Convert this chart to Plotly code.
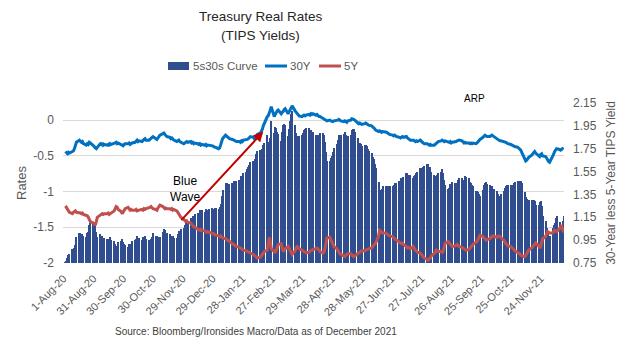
import pandas as pd
import plotly.graph_objects as go

# ---- data -------------------------------------------------------------
# Daily (business-day) real yields, %, 3-Aug-2020 .. 17-Dec-2021, one week per line
real_30y = [
    -0.44, -0.46, -0.47, -0.45, -0.46,  -0.44, -0.43, -0.40, -0.36, -0.31,
    -0.28, -0.29, -0.31, -0.30, -0.33,  -0.35, -0.33, -0.34, -0.31, -0.32,
    -0.35, -0.37, -0.39, -0.40, -0.38,  -0.33, -0.34, -0.32, -0.35, -0.34,
    -0.35, -0.34, -0.36, -0.33, -0.34,  -0.33, -0.32, -0.31, -0.33, -0.32,
    -0.34, -0.35, -0.36, -0.34, -0.33,  -0.33, -0.32, -0.34, -0.33, -0.32,
    -0.31, -0.29, -0.28, -0.30, -0.29,  -0.30, -0.28, -0.27, -0.26, -0.28,
    -0.28, -0.27, -0.25, -0.24, -0.23,  -0.26, -0.27, -0.25, -0.23, -0.21,
    -0.19, -0.18, -0.20, -0.22, -0.23,  -0.24, -0.26, -0.25, -0.27, -0.28,
    -0.30, -0.29, -0.28, -0.30, -0.31,  -0.33, -0.32, -0.31, -0.30, -0.31,
    -0.30, -0.32, -0.31, -0.33, -0.32,  -0.33, -0.34, -0.33, -0.35, -0.34,
    -0.35, -0.34, -0.36, -0.35, -0.35,  -0.35, -0.36, -0.37, -0.37, -0.38,
    -0.40, -0.39, -0.35, -0.30, -0.26,  -0.21, -0.22, -0.24, -0.25, -0.26,
    -0.27, -0.28, -0.28, -0.29, -0.30,  -0.30, -0.31, -0.29, -0.30, -0.28,
    -0.28, -0.27, -0.26, -0.25, -0.23,  -0.24, -0.26, -0.25, -0.22, -0.20,
    -0.18, -0.16, -0.13, -0.08, -0.04,   0.05,  0.06,  0.09,  0.14,  0.19,
     0.05,  0.08,  0.11,  0.13,  0.14,   0.09,  0.11,  0.12,  0.15,  0.16,
     0.09,  0.12,  0.15,  0.18,  0.20,   0.13,  0.11,  0.09,  0.07,  0.06,
     0.05,  0.06,  0.07,  0.06,  0.07,   0.08,  0.07,  0.09,  0.08,  0.09,
     0.07,  0.08,  0.06,  0.05,  0.05,   0.03,  0.02,  0.01,  0.00, -0.01,
     0.00, -0.01, -0.02, -0.02, -0.01,  -0.01,  0.00,  0.01,  0.00, -0.01,
    -0.02, -0.01, -0.02, -0.03, -0.01,   0.00,  0.02,  0.02,  0.01,  0.00,
    -0.03, -0.05, -0.04, -0.05, -0.06,  -0.05, -0.04, -0.05, -0.06, -0.07,
    -0.08, -0.09, -0.10, -0.12, -0.14,  -0.16, -0.15, -0.16, -0.17, -0.16,
    -0.16, -0.17, -0.18, -0.19, -0.20,  -0.21, -0.22, -0.21, -0.22, -0.23,
    -0.24, -0.25, -0.24, -0.23, -0.24,  -0.23, -0.25, -0.26, -0.27, -0.28,
    -0.28, -0.29, -0.30, -0.29, -0.30,  -0.28, -0.30, -0.31, -0.32, -0.33,
    -0.33, -0.34, -0.35, -0.34, -0.35,  -0.35, -0.34, -0.32, -0.31, -0.30,
    -0.29, -0.28, -0.29, -0.30, -0.29,  -0.30, -0.31, -0.30, -0.32, -0.31,
    -0.31, -0.30, -0.29, -0.28, -0.28,  -0.29, -0.31, -0.32, -0.31, -0.32,
    -0.32, -0.33, -0.32, -0.33, -0.32,  -0.33, -0.32, -0.30, -0.28, -0.27,
    -0.24, -0.22, -0.21, -0.22, -0.23,  -0.23, -0.22, -0.21, -0.22, -0.23,
    -0.26, -0.28, -0.28, -0.29, -0.29,  -0.30, -0.30, -0.31, -0.32, -0.33,
    -0.34, -0.35, -0.36, -0.36, -0.37,  -0.38, -0.39, -0.40, -0.42, -0.45,
    -0.54, -0.57, -0.56, -0.54, -0.52,  -0.49, -0.47, -0.45, -0.44, -0.46,
    -0.50, -0.51, -0.48, -0.47, -0.50,  -0.51, -0.53, -0.56, -0.58, -0.59,
    -0.52, -0.48, -0.44, -0.41, -0.40,  -0.41, -0.42, -0.41, -0.40, -0.41,
]

real_5y = [
    -1.20, -1.23, -1.26, -1.27, -1.29,  -1.31, -1.29, -1.28, -1.27, -1.29,
    -1.29, -1.30, -1.31, -1.30, -1.32,  -1.33, -1.34, -1.36, -1.39, -1.42,
    -1.44, -1.46, -1.47, -1.42, -1.36,  -1.33, -1.32, -1.31, -1.32, -1.31,
    -1.31, -1.30, -1.32, -1.31, -1.29,  -1.27, -1.24, -1.21, -1.22, -1.25,
    -1.28, -1.31, -1.29, -1.26, -1.24,  -1.22, -1.24, -1.26, -1.25, -1.26,
    -1.26, -1.25, -1.27, -1.26, -1.26,  -1.25, -1.26, -1.24, -1.25, -1.24,
    -1.23, -1.22, -1.21, -1.22, -1.24,  -1.25, -1.26, -1.23, -1.21, -1.19,
    -1.21, -1.23, -1.24, -1.23, -1.24,  -1.24, -1.25, -1.24, -1.26, -1.25,
    -1.27, -1.29, -1.31, -1.33, -1.36,  -1.39, -1.40, -1.42, -1.41, -1.43,
    -1.44, -1.46, -1.47, -1.49, -1.50,  -1.52, -1.53, -1.54, -1.53, -1.55,
    -1.55, -1.56, -1.57, -1.56, -1.57,  -1.58, -1.58, -1.59, -1.60, -1.61,
    -1.62, -1.63, -1.62, -1.64, -1.65,  -1.66, -1.67, -1.68, -1.69, -1.70,
    -1.72, -1.73, -1.75, -1.76, -1.77,  -1.78, -1.79, -1.80, -1.81, -1.82,
    -1.83, -1.84, -1.85, -1.86, -1.86,  -1.88, -1.89, -1.91, -1.92, -1.93,
    -1.92, -1.90, -1.88, -1.86, -1.84,  -1.82, -1.75, -1.64, -1.70, -1.80,
    -1.84, -1.86, -1.82, -1.77, -1.74,  -1.73, -1.79, -1.84, -1.82, -1.80,
    -1.77, -1.80, -1.84, -1.87, -1.88,  -1.83, -1.78, -1.77, -1.79, -1.80,
    -1.82, -1.83, -1.84, -1.86, -1.86,  -1.85, -1.83, -1.82, -1.82, -1.81,
    -1.80, -1.79, -1.80, -1.82, -1.84,  -1.86, -1.85, -1.80, -1.72, -1.65,
    -1.64, -1.68, -1.71, -1.74, -1.77,  -1.80, -1.83, -1.86, -1.87, -1.88,
    -1.90, -1.91, -1.89, -1.88, -1.87,  -1.87, -1.89, -1.90, -1.91, -1.90,
    -1.87, -1.85, -1.84, -1.84, -1.83,  -1.83, -1.82, -1.82, -1.81, -1.80,
    -1.79, -1.77, -1.76, -1.74, -1.72,  -1.62, -1.54, -1.55, -1.57, -1.58,
    -1.58, -1.59, -1.60, -1.61, -1.62,  -1.63, -1.65, -1.66, -1.67, -1.68,
    -1.71, -1.72, -1.73, -1.72, -1.74,  -1.77, -1.79, -1.78, -1.79, -1.80,
    -1.77, -1.80, -1.82, -1.83, -1.85,  -1.86, -1.88, -1.89, -1.91, -1.93,
    -1.95, -1.96, -1.94, -1.93, -1.90,  -1.87, -1.85, -1.82, -1.83, -1.84,
    -1.84, -1.85, -1.83, -1.78, -1.72,  -1.70, -1.72, -1.74, -1.76, -1.77,
    -1.76, -1.75, -1.74, -1.76, -1.77,  -1.78, -1.79, -1.80, -1.82, -1.82,
    -1.81, -1.79, -1.77, -1.76, -1.74,  -1.71, -1.70, -1.67, -1.63, -1.61,
    -1.63, -1.65, -1.66, -1.68, -1.67,  -1.66, -1.64, -1.63, -1.62, -1.63,
    -1.64, -1.63, -1.62, -1.63, -1.64,  -1.68, -1.71, -1.73, -1.75, -1.76,
    -1.77, -1.78, -1.79, -1.81, -1.83,  -1.85, -1.86, -1.87, -1.89, -1.90,
    -1.91, -1.90, -1.87, -1.84, -1.82,  -1.79, -1.77, -1.75, -1.73, -1.72,
    -1.76, -1.79, -1.77, -1.72, -1.66,  -1.63, -1.59, -1.56, -1.57, -1.58,
    -1.58, -1.56, -1.54, -1.55, -1.56,  -1.52, -1.49, -1.47, -1.52, -1.57,
]

tick_labels = [
    "1-Aug-20", "31-Aug-20", "30-Sep-20", "30-Oct-20", "29-Nov-20",
    "29-Dec-20", "28-Jan-21", "27-Feb-21", "29-Mar-21", "28-Apr-21",
    "28-May-21", "27-Jun-21", "27-Jul-21", "26-Aug-21", "25-Sep-21",
    "25-Oct-21", "24-Nov-21",
]
rate_ticks = [-2, -1.5, -1, -0.5, 0]
curve_ticks = [0.75, 0.95, 1.15, 1.35, 1.55, 1.75, 1.95, 2.15]

dates = pd.bdate_range("2020-08-03", "2021-12-17")
# 5s30s curve: 30-year less 5-year real yield
curve = [round(a - b, 2) for a, b in zip(real_30y, real_5y)]
tick_dates = pd.to_datetime(tick_labels, format="%d-%b-%y")

# ---- layout helpers -----------------------------------------------------
W, H = 635, 342
L, R, T, B = 63, 71, 103, 79
PW, PH = W - L - R, H - T - B


def px(x):
    return (x - L) / PW


def py(y):
    return (H - B - y) / PH


SANS = "Liberation Sans, Arial, sans-serif"
GREY = "#595959"
BAR = "#2F4D8F"
BLUE = "#0070C0"
RED = "#C0504D"
DAY_MS = 86400000

fig = go.Figure()
fig.add_trace(go.Bar(
    x=dates, y=curve, name="5s30s Curve", yaxis="y",
    marker=dict(color=BAR, line=dict(width=0)), width=DAY_MS,
    showlegend=False,
))
fig.add_trace(go.Scatter(
    x=dates, y=real_30y, name="30Y", yaxis="y2", mode="lines",
    line=dict(color=BLUE, width=3), showlegend=False,
))
fig.add_trace(go.Scatter(
    x=dates, y=real_5y, name="5Y", yaxis="y2", mode="lines",
    line=dict(color=RED, width=3), showlegend=False,
))

fig.update_layout(
    width=W, height=H,
    margin=dict(l=L, r=R, t=T, b=B),
    paper_bgcolor="white", plot_bgcolor="white",
    font=dict(family=SANS, color=GREY),
    bargap=0,
    xaxis=dict(
        type="date",
        range=["2020-07-31 12:00", "2021-12-17 12:00"],
        tickmode="array", tickvals=tick_dates, ticktext=tick_labels,
        tickangle=-45, tickfont=dict(size=11, color=GREY), ticklabelstandoff=6,
        showgrid=False, zeroline=False, showline=False, ticks="",
    ),
    yaxis=dict(
        side="right", range=[0.75, 2.15],
        tickmode="array", tickvals=curve_ticks,
        ticktext=[f"{v:.2f}" for v in curve_ticks],
        tickfont=dict(size=12, color=GREY), ticklabelstandoff=8,
        showgrid=False, zeroline=False, showline=False, ticks="",
        title=dict(text="30-Year less 5-Year TIPS Yield",
                   font=dict(size=12, color=GREY), standoff=10),
    ),
    yaxis2=dict(
        side="left", overlaying="y", range=[-2, 0.24],
        tickmode="array", tickvals=rate_ticks,
        ticktext=[f"{v:g}" for v in rate_ticks],
        tickfont=dict(size=12, color=GREY), ticklabelstandoff=8,
        showgrid=True, gridcolor="#D9D9D9", gridwidth=1,
        zeroline=False, showline=False, ticks="",
        title=dict(text="Rates", font=dict(size=13, color=GREY), standoff=3),
    ),
)

# title (two lines)
for text, yc in (("Treasury Real Rates", 17), ("(TIPS Yields)", 35)):
    fig.add_annotation(text=text, x=px(260.5), y=py(yc), xref="paper", yref="paper",
                       xanchor="center", yanchor="middle", showarrow=False,
                       font=dict(family=SANS, size=13.5, color="#262626"))

# legend row
LEG_Y = 66
fig.add_shape(type="rect", xref="paper", yref="paper",
              x0=px(168), x1=px(189), y0=py(70), y1=py(62),
              fillcolor=BAR, line=dict(width=0))
for color, x0, x1 in ((BLUE, 265, 287), (RED, 319, 341)):
    fig.add_shape(type="line", xref="paper", yref="paper",
                  x0=px(x0), x1=px(x1), y0=py(LEG_Y), y1=py(LEG_Y),
                  line=dict(color=color, width=3))
for text, xl in (("5s30s Curve", 191), ("30Y", 288), ("5Y", 342)):
    fig.add_annotation(text=text, x=px(xl), y=py(LEG_Y), xref="paper", yref="paper",
                       xanchor="left", yanchor="middle", showarrow=False,
                       font=dict(family=SANS, size=11.5, color=GREY))

# "Blue Wave" call-out with arrow
fig.add_annotation(text="Blue<br>Wave", x=px(185), y=py(189), xref="paper", yref="paper",
                   xanchor="center", yanchor="middle", showarrow=False,
                   font=dict(size=12, color="#000000"))
fig.add_annotation(text="", x="2021-02-18", y=-0.16, xref="x", yref="y2",
                   ax="2020-11-26 04:00", ay=-1.42, axref="x", ayref="y2",
                   showarrow=True, arrowhead=2, arrowsize=1, arrowwidth=2,
                   arrowcolor="#C00000")

fig.add_annotation(text="ARP", x=px(474.5), y=py(98), xref="paper", yref="paper",
                   xanchor="center", yanchor="middle", showarrow=False,
                   font=dict(size=10, color="#000000"))

fig.add_annotation(text="Source: Bloomberg/Ironsides Macro/Data as of December 2021",
                   x=px(256), y=py(331), xref="paper", yref="paper",
                   xanchor="center", yanchor="middle", showarrow=False,
                   font=dict(size=10, color="#404040"))

fig.write_html("out.html")
